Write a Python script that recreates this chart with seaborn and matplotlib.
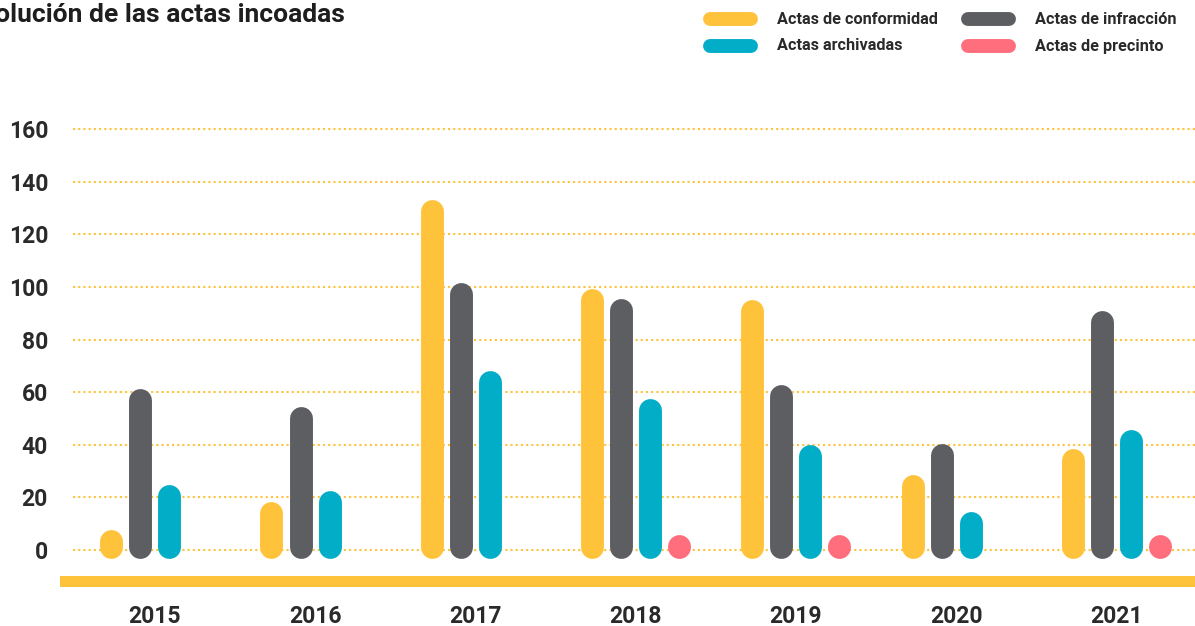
import pandas as pd
import matplotlib
matplotlib.use("Agg")
import matplotlib.pyplot as plt
from matplotlib.lines import Line2D
from matplotlib.patches import Rectangle
import seaborn as sns

# ---
# Datos
years = ["2015", "2016", "2017", "2018", "2019", "2020", "2021"]
conformidad = [3.5, 13.9, 128.7, 94.9, 90.9, 24.5, 34.1]
infraccion = [57.1, 50.1, 97.3, 91.1, 58.7, 36.0, 86.6]
archivadas = [20.6, 18.4, 63.7, 53.3, 35.6, 10.2, 41.6]
precinto = [None, None, None, 1.7, 1.7, None, 1.7]

series_names = ["Actas de conformidad", "Actas de infracción",
                "Actas archivadas", "Actas de precinto"]
series_values = [conformidad, infraccion, archivadas, precinto]

YELLOW = "#FFC33B"
GREY = "#5D5E62"
BLUE = "#02ADC8"
PINK = "#FE6E7C"
palette = dict(zip(series_names, [YELLOW, GREY, BLUE, PINK]))

rows = []
for name, vals in zip(series_names, series_values):
    for y, v in zip(years, vals):
        if v is not None:
            rows.append({"Año": y, "Tipo": name, "Valor": v})
df = pd.DataFrame(rows)

# ---
sns.set_theme(style="white")
plt.rcParams["font.family"] = ["Roboto", "DejaVu Sans"]

W, H = 1195, 626
fig = plt.figure(figsize=(W / 100, H / 100), dpi=100)
ax = fig.add_axes([73 / W, 0.1003, 1 - 73 / W, 0.7144])

sns.barplot(data=df, x="Año", y="Valor", hue="Tipo", order=years,
            hue_order=series_names, palette=palette, width=0.725,
            saturation=1, legend=False, ax=ax)

# barras redondeadas: cada rectángulo se sustituye por una línea con extremos redondos
BASE = 1.3
for p in list(ax.patches):
    h = p.get_height()
    if pd.isna(h) or p.get_width() == 0:
        p.remove()
        continue
    xc = p.get_x() + p.get_width() / 2
    ax.plot([xc, xc], [BASE, h], color=p.get_facecolor(), lw=16.5,
            solid_capstyle="round", zorder=3)
    p.remove()

ax.set_xlim(-0.51, 6.49)
ax.set_ylim(-5, 165)
ax.set_yticks(range(0, 161, 20))
ax.set_xlabel("")
ax.set_ylabel("")
ax.grid(axis="y", color=YELLOW, linestyle=(0, (1, 1.5)), lw=1.5, zorder=0)
ax.grid(axis="x", visible=False)
for s in ax.spines.values():
    s.set_visible(False)
ax.tick_params(axis="y", length=0, pad=18, labelsize=16.5, labelcolor="#2a2a2a")
ax.tick_params(axis="x", length=0, pad=30, labelsize=16.5, labelcolor="#2a2a2a")
for lab in ax.get_xticklabels() + ax.get_yticklabels():
    lab.set_fontweight("bold")

# línea base amarilla gruesa
fig.add_artist(Rectangle((60 / W, (H - 587) / H), 1, 11 / H,
                         transform=fig.transFigure, color=YELLOW, lw=0))

# título (cortado por la izquierda como en el original)
fig.text(345 / W, 1 - 15 / H, "Evolución de las actas incoadas", ha="right",
         va="center", fontsize=19, fontweight="bold", color="#1e1e1e")

# leyenda
legend_items = [
    ("Actas de conformidad", YELLOW, 703, 19),
    ("Actas archivadas", BLUE, 703, 46),
    ("Actas de infracción", GREY, 961, 19),
    ("Actas de precinto", PINK, 961, 46),
]
for label, col, x0, yc in legend_items:
    fig.add_artist(Line2D([(x0 + 7) / W, (x0 + 48) / W], [1 - yc / H, 1 - yc / H],
                          transform=fig.transFigure, color=col, lw=10,
                          solid_capstyle="round"))
    fig.text((x0 + 74) / W, 1 - yc / H, label, ha="left", va="center",
             fontsize=11.7, fontweight="bold", color="#2a2a2a")

fig.savefig("out.png", dpi=100)
